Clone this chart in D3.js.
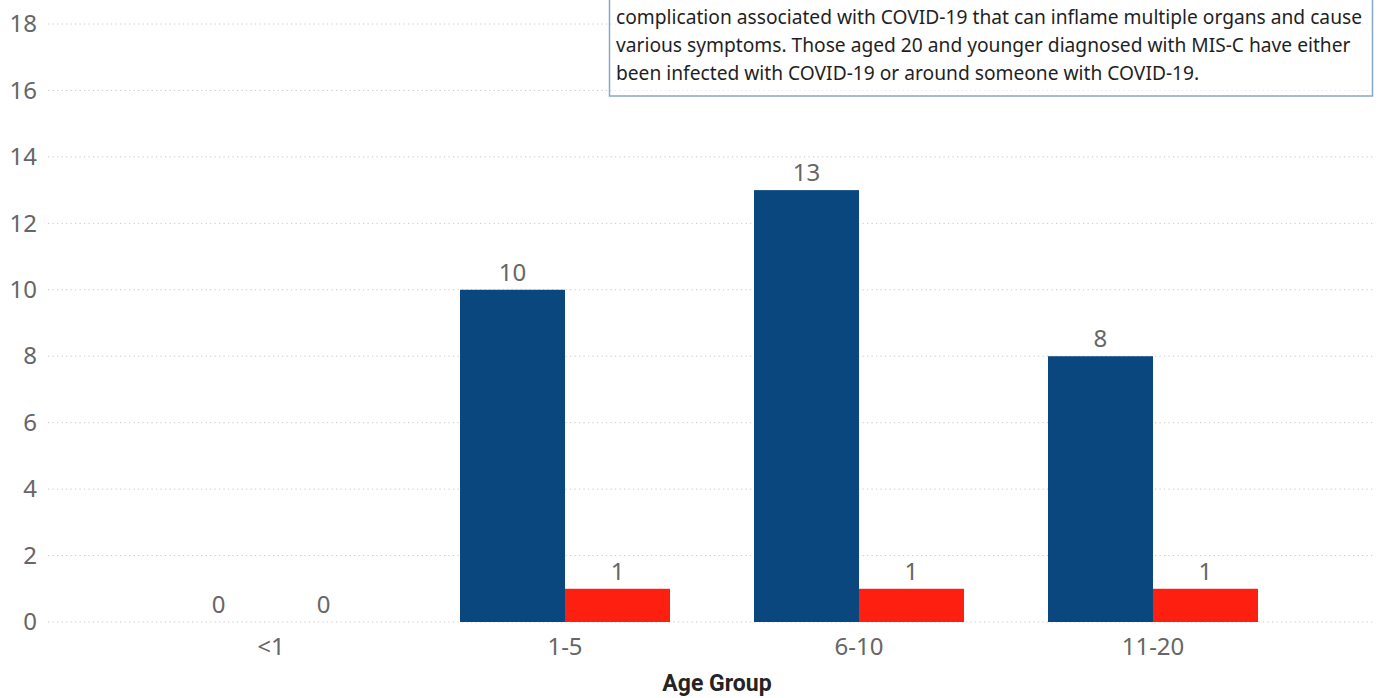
<!DOCTYPE html>
<html>
<head>
<meta charset="utf-8">
<script src="https://cdn.jsdelivr.net/npm/d3@7"></script>
<style>
  html, body { margin: 0; padding: 0; background: #fff; overflow: hidden; }
  svg { display: block; }
</style>
</head>
<body>
<svg id="chart" width="1395" height="698"></svg>
<script>
// === Data ===
const ageGroups = ['<1', '1-5', '6-10', '11-20'];
const misCases = [0, 10, 13, 8];
const misDeaths = [0, 1, 1, 1];
const yTicks = [0, 2, 4, 6, 8, 10, 12, 14, 16, 18];
const noteLines = [
    'complication associated with COVID-19 that can inflame multiple organs and cause',
    'various symptoms. Those aged 20 and younger diagnosed with MIS-C have either',
    'been infected with COVID-19 or around someone with COVID-19.'
];

const seriesColors = ['#0b477f', '#fd1f10'];
const series = [misCases, misDeaths];

const svg = d3.select('#chart');
const W = 1395, H = 698;
const margin = { left: 48, right: 20 };

const y = d3.scaleLinear().domain([0, 18]).range([622, 24]);

const x = d3.scaleBand()
    .domain(ageGroups)
    .range([124, 1300])
    .paddingInner(0.2857)
    .paddingOuter(0.1429);

const xSub = d3.scaleBand()
    .domain(d3.range(series.length))
    .range([0, x.bandwidth()]);

// Gridlines
svg.append('g')
    .selectAll('line')
    .data(yTicks)
    .join('line')
    .attr('x1', margin.left)
    .attr('x2', W - margin.right)
    .attr('y1', d => y(d))
    .attr('y2', d => y(d))
    .attr('stroke', '#c6c6c6')
    .attr('stroke-width', 1)
    .attr('stroke-dasharray', '1.2 3.3');

// Y axis labels
const yAxis = d3.axisLeft(y).tickValues(yTicks).tickSize(0).tickPadding(0);
svg.append('g')
    .attr('transform', 'translate(37,0)')
    .call(yAxis)
    .call(g => g.select('.domain').remove())
    .selectAll('text')
    .attr('font-family', '"Noto Sans", "Open Sans", sans-serif')
    .attr('font-size', 24)
    .attr('fill', '#666666');

// X axis labels
const xAxis = d3.axisBottom(x).tickSize(0).tickPadding(0);
svg.append('g')
    .attr('transform', 'translate(0,638)')
    .call(xAxis)
    .call(g => g.select('.domain').remove())
    .selectAll('text')
    .attr('font-family', '"Noto Sans", "Open Sans", sans-serif')
    .attr('font-size', 24)
    .attr('fill', '#666666');

// Bars
const rows = ageGroups.map((a, i) => ({ group: a, values: series.map(s => s[i]) }));

const groups = svg.append('g')
    .selectAll('g')
    .data(rows)
    .join('g')
    .attr('transform', d => `translate(${x(d.group)},0)`);

groups.selectAll('rect')
    .data(d => d.values.map((v, k) => ({ v, k })))
    .join('rect')
    .attr('x', d => xSub(d.k))
    .attr('width', xSub.bandwidth())
    .attr('y', d => y(d.v))
    .attr('height', d => y(0) - y(d.v))
    .attr('fill', d => seriesColors[d.k]);

groups.selectAll('text')
    .data(d => d.values.map((v, k) => ({ v, k })))
    .join('text')
    .attr('x', d => xSub(d.k) + xSub.bandwidth() / 2)
    .attr('y', d => y(d.v) - 9)
    .attr('text-anchor', 'middle')
    .attr('font-family', '"Noto Sans", "Open Sans", sans-serif')
    .attr('font-size', 24)
    .attr('fill', '#666666')
    .text(d => d.v);

// X axis title
svg.append('text')
    .attr('x', 717)
    .attr('y', 691)
    .attr('text-anchor', 'middle')
    .attr('font-family', 'Roboto, "DejaVu Sans", sans-serif')
    .attr('font-weight', 700)
    .attr('font-size', 23)
    .attr('fill', '#252423')
    .text('Age Group');

// Note box (cut off at top of the view)
const note = svg.append('g');
note.append('rect')
    .attr('x', 609.5)
    .attr('y', -20)
    .attr('width', 763)
    .attr('height', 116)
    .attr('fill', 'rgba(255,255,255,0.55)')
    .attr('stroke', '#86a6cf')
    .attr('stroke-width', 1.5);

const noteText = note.selectAll('text')
    .data(noteLines)
    .join('text')
    .attr('x', 616)
    .attr('y', (d, i) => 24 + i * 28)
    .attr('font-family', '"Noto Sans", "Open Sans", sans-serif')
    .attr('font-size', 18)
    .attr('fill', '#1f1f1f')
    .text(d => d);

// fit first line width to the box
const w0 = noteText.node().getComputedTextLength();
noteText.attr('font-size', (18 * 747 / w0).toFixed(2));
</script>
</body>
</html>
